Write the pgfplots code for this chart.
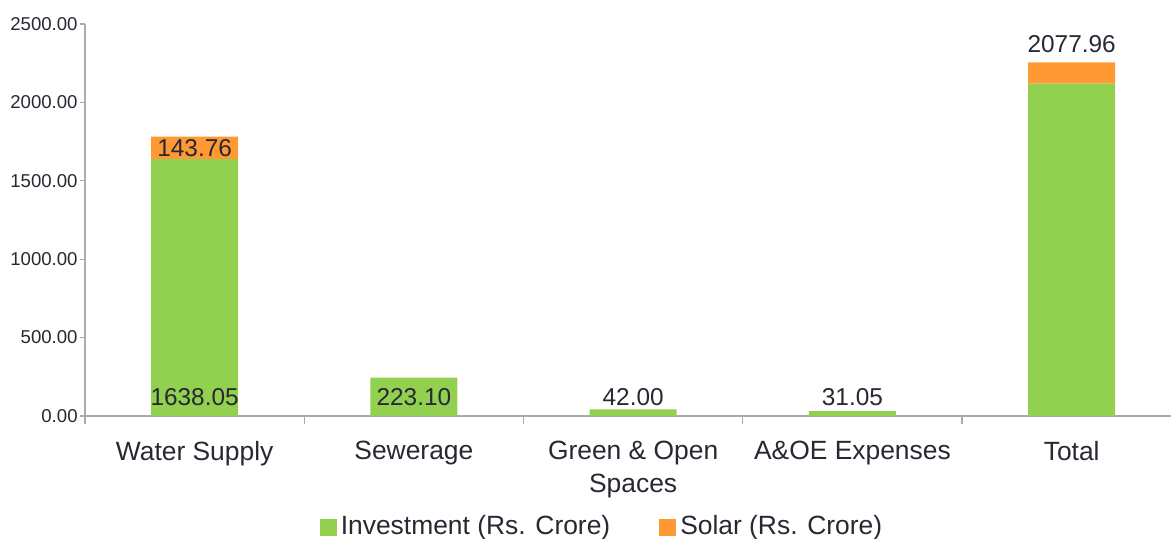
\documentclass[border=0pt]{standalone}
\usepackage{pgfplots}
\pgfplotsset{compat=1.18}
\usepackage{fontspec}
\setmainfont{Liberation Sans}
\usetikzlibrary{calc}
\definecolor{grn}{HTML}{92D050}
\definecolor{org}{HTML}{FF9933}
\definecolor{txt}{RGB}{40,40,50}
\definecolor{axc}{RGB}{170,170,170}
\tikzset{lbl/.style={font=\fontsize{12.2}{14}\selectfont, text=txt, inner sep=0pt}}
\begin{document}
\begin{tikzpicture}
\begin{axis}[
  scale only axis, width=543pt, height=196pt,
  xmin=-0.5, xmax=4.453, ymin=0, ymax=2500,
  ybar stacked, bar width=43.5pt,
  axis x line*=bottom, axis y line*=left,
  axis line style={draw=axc, line width=0.6pt},
  tick align=outside,
  major tick length=2.5pt, minor tick length=4pt,
  tick style={draw=axc, line width=0.6pt},
  every major x tick/.append style={draw=none},
  ytick={0,500,1000,1500,2000,2500},
  yticklabel style={font=\fontsize{9.3}{11}\selectfont, text=txt, inner sep=1pt,
    /pgf/number format/.cd, fixed, fixed zerofill, precision=2, 1000 sep={}, assume math mode=true},
  xtick={0,1,2,3,4},
  minor xtick={-0.5,0.5,1.5,2.5,3.5},
  xticklabels={Water Supply, Sewerage, {Green \& Open\\Spaces}, A\&OE Expenses, Total},
  xticklabel style={align=center, font=\fontsize{13.2}{16.5}\selectfont, text=txt, anchor=north, inner sep=0pt, yshift=-10pt},
  legend style={at={(0.477,-0.283)}, anchor=center, draw=none, fill=none,
    legend columns=2, font=\fontsize{13.2}{15}\selectfont, text=txt,
    /tikz/every even column/.append style={column sep=22.5pt},
    legend cell align=left, inner sep=0pt},
  legend image code/.code={\fill[#1] (0pt,-4.5pt) rectangle (8.5pt,4pt);},
]
\addplot[fill=grn, draw=none] coordinates {(0,1638.05) (1,245) (2,42) (3,31.05) (4,2120)};
\addplot[fill=org, draw=none] coordinates {(0,143.76) (1,0) (2,0) (3,0) (4,135)};
\legend{Investment (Rs. Crore), Solar (Rs. Crore)}
\coordinate (a0) at (axis cs:0,0);
\coordinate (b0) at (axis cs:0,1709.93);
\coordinate (a1) at (axis cs:1,0);
\coordinate (a2) at (axis cs:2,0);
\coordinate (a3) at (axis cs:3,0);
\coordinate (t4) at (axis cs:4,2255);
\coordinate (bl) at (rel axis cs:0,0);
\coordinate (tr) at (rel axis cs:1,1);
\end{axis}
\node[lbl, anchor=base] at (a0) [yshift=5pt] {1638.05};
\node[lbl, anchor=center] at (b0) {143.76};
\node[lbl, anchor=base] at (a1) [yshift=5pt] {223.10};
\node[lbl, anchor=base] at (a2) [yshift=5pt] {42.00};
\node[lbl, anchor=base] at (a3) [yshift=5pt] {31.05};
\node[lbl, anchor=base] at (t4) [yshift=5pt] {2077.96};
\pgfresetboundingbox
\path ($(bl)+(-42.5pt,-61.25pt)$) rectangle ($(tr)+(0pt,12pt)$);
\end{tikzpicture}
\end{document}
